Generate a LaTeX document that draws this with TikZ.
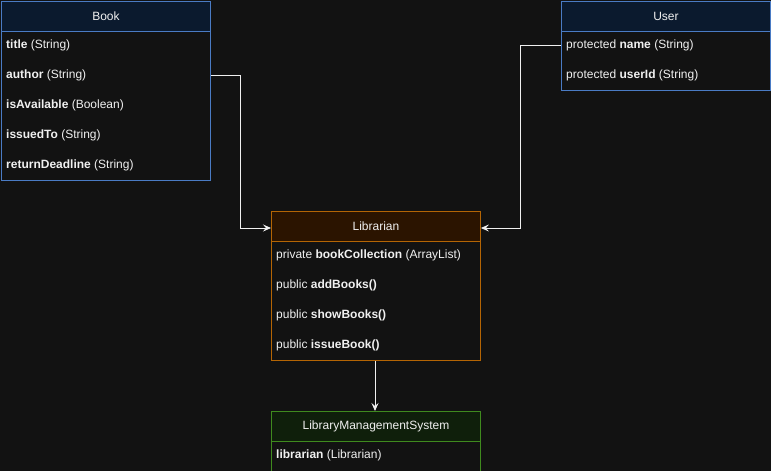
\documentclass[tikz,border=0pt]{standalone}
\usepackage{fontspec}
\setmainfont{Liberation Sans}
\usetikzlibrary{arrows.meta}
\definecolor{bgc}{HTML}{121212}
\definecolor{txt}{HTML}{F0F0F0}
\definecolor{bluehd}{HTML}{0B1A2E}
\definecolor{bluestk}{HTML}{4A7BC4}
\definecolor{orhd}{HTML}{2B1400}
\definecolor{orstk}{HTML}{B46504}
\definecolor{grhd}{HTML}{0F1F0B}
\definecolor{grstk}{HTML}{3F8A1E}
\begin{document}
\begin{tikzpicture}[x=1pt,y=-1pt,
  font=\fontsize{12}{14}\selectfont,
  box/.style={draw=#1, line width=0.9pt, anchor=north west, minimum width=209pt, inner sep=0pt, fill=bgc},
  hdr/.style={draw=#1, line width=0.9pt, anchor=north west, minimum width=209pt, minimum height=30pt, inner sep=0pt, text=txt},
  row/.style={anchor=west, text=txt, inner sep=0pt},
  conn/.style={draw=txt, line width=0.9pt, -{Stealth[length=8pt,width=7pt,inset=3pt]}}]
\useasboundingbox (0,0) rectangle (771,471);
\fill[bgc] (0,0) rectangle (771,471);

% Book
\node[box=bluestk, minimum height=179pt] (book) at (1,1) {};
\node[hdr=bluestk, fill=bluehd] (bookh) at (1,1) {Book};
\node[row] (b1) at (6,45) {\textbf{title} (String)};
\node[row] (b2) at (6,75) {\textbf{author} (String)};
\node[row] (b3) at (6,105) {\textbf{isAvailable} (Boolean)};
\node[row] (b4) at (6,135) {\textbf{issuedTo} (String)};
\node[row] (b5) at (6,165) {\textbf{returnDeadline} (String)};

% User
\node[box=bluestk, minimum height=89pt] (user) at (561,1) {};
\node[hdr=bluestk, fill=bluehd] (userh) at (561,1) {User};
\node[row] (u1) at (566,45) {protected \textbf{name} (String)};
\node[row] (u2) at (566,75) {protected \textbf{userId} (String)};

% Librarian
\node[box=orstk, minimum height=149pt] (lib) at (271,211) {};
\node[hdr=orstk, fill=orhd] (libh) at (271,211) {Librarian};
\node[row] (l1) at (276,255) {private \textbf{bookCollection} (ArrayList)};
\node[row] (l2) at (276,285) {public \textbf{addBooks()}};
\node[row] (l3) at (276,315) {public \textbf{showBooks()}};
\node[row] (l4) at (276,345) {public \textbf{issueBook()}};

% LibraryManagementSystem
\node[box=grstk, minimum height=70pt] (lms) at (271,411) {};
\node[hdr=grstk, fill=grhd] (lmsh) at (271,411) {LibraryManagementSystem};
\node[row] (m1) at (276,455) {\textbf{librarian} (Librarian)};

% connectors
\coordinate (bk) at (240,75);
\coordinate (us) at (520,45);
\draw[conn] (book.east |- b2) -- (bk) |- (lib.west |- 0,228);
\draw[conn] (user.west |- u1) -- (us) |- (lib.east |- 0,228);
\draw[conn] (lib.south -| 375,0) -- (lms.north -| 375,0);
\end{tikzpicture}
\end{document}
